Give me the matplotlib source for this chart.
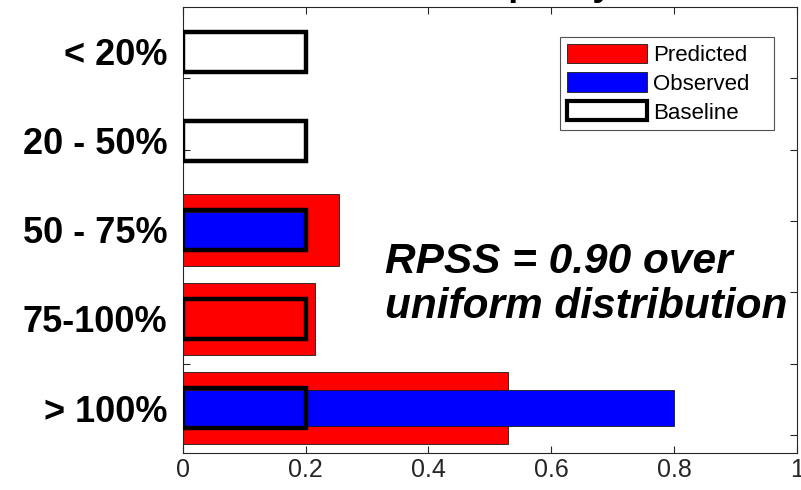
import numpy as np
import matplotlib
matplotlib.use("Agg")
import matplotlib.pyplot as plt
from matplotlib.patches import Patch

plt.rcParams['font.family'] = ['Liberation Sans', 'DejaVu Sans']

categories = ["< 20%", "20 - 50%", "50 - 75%", "75-100%", "> 100%"]
predicted = [0.0, 0.0, 0.254, 0.216, 0.530]
observed = [0.0, 0.0, 0.2, 0.0, 0.8]
baseline = [0.2, 0.2, 0.2, 0.2, 0.2]
x_ticks = [0, 0.2, 0.4, 0.6, 0.8, 1]
x_tick_labels = ["0", "0.2", "0.4", "0.6", "0.8", "1"]
title_text = "Occupancy"
annotation_lines = ["RPSS = 0.90 over", "uniform distribution"]

fig = plt.figure(figsize=(8.01, 4.90), dpi=100)
ax = fig.add_axes([0.228, 0.0761, 0.767, 0.9096])

y = np.arange(len(categories))
spine_col = '#262626'

ax.barh(y, predicted, height=0.8, color='#ff0000', edgecolor='#1a1a1a', linewidth=0.6, zorder=2)
ax.barh(y, observed, height=0.4, color='#0000ff', edgecolor='#1a1a1a', linewidth=0.6, zorder=3)
ax.barh(y, baseline, height=0.45, facecolor='none', edgecolor='black', linewidth=3.2, zorder=4)

ax.set_xlim(0, 1)
ax.set_ylim(len(categories) - 0.5, -0.5)

ax.set_xticks(x_ticks)
ax.set_xticklabels(x_tick_labels, fontsize=18, color=spine_col)
ax.set_yticks(y)
ax.set_yticklabels(categories, fontsize=26, fontweight='bold')
ax.set_yticks(np.arange(0.3, 4.4, 0.8), minor=True)

ax.tick_params(axis='x', which='major', direction='in', length=5, width=0.8,
               color=spine_col, top=True, pad=4)
ax.tick_params(axis='y', which='major', length=0, pad=11)
ax.tick_params(axis='y', which='minor', direction='in', length=5, width=0.8,
               color=spine_col, right=True, left=True)

for s in ax.spines.values():
    s.set_color(spine_col)
    s.set_linewidth(0.8)

ax.text(0.542, -0.5 - 0.14, title_text, fontsize=26, fontweight='bold',
        ha='center', va='baseline', transform=ax.transData, clip_on=False)

ax.text(0.329, 2.48, annotation_lines[0], fontsize=30.5, fontweight='bold',
        fontstyle='italic', ha='left', va='baseline')
ax.text(0.329, 2.99, annotation_lines[1], fontsize=30.5, fontweight='bold',
        fontstyle='italic', ha='left', va='baseline')

handles = [
    Patch(facecolor='#ff0000', edgecolor='#1a1a1a', linewidth=0.6, label='Predicted'),
    Patch(facecolor='#0000ff', edgecolor='#1a1a1a', linewidth=0.6, label='Observed'),
    Patch(facecolor='white', edgecolor='black', linewidth=3.0, label='Baseline'),
]
leg = ax.legend(handles=handles, loc='upper left',
                bbox_to_anchor=(0.6142, 0.733, 0.3484, 0.2), mode='expand',
                fontsize=16, frameon=True, fancybox=False, handlelength=3.6,
                handleheight=0.95, handletextpad=0.3, labelspacing=0.3,
                borderpad=0.3, borderaxespad=0.0)
leg.get_frame().set_edgecolor(spine_col)
leg.get_frame().set_linewidth(0.8)

fig.savefig("out.png", dpi=100)
